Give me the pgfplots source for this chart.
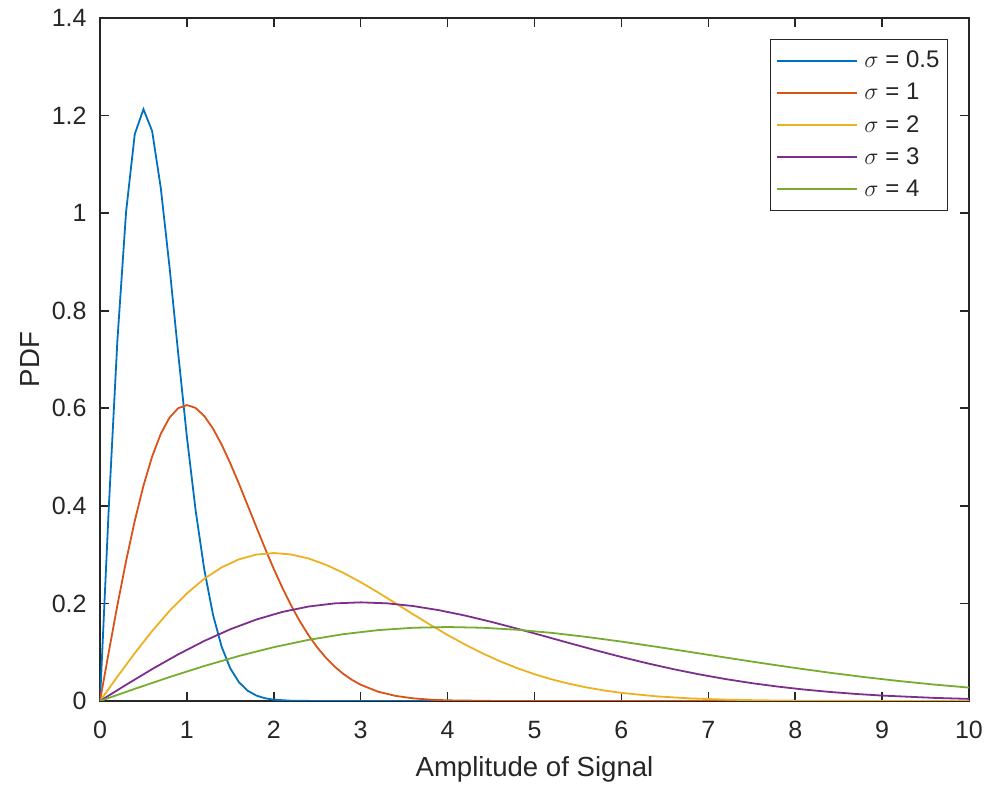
\documentclass[border=0pt]{standalone}
\usepackage{fontspec}
\setmainfont{Liberation Sans}
\usepackage{pgfplots}
\pgfplotsset{compat=1.18}
\definecolor{c1}{rgb}{0,0.447,0.741}
\definecolor{c2}{rgb}{0.85,0.325,0.098}
\definecolor{c3}{rgb}{0.929,0.694,0.125}
\definecolor{c4}{rgb}{0.494,0.184,0.556}
\definecolor{c5}{rgb}{0.466,0.674,0.188}
\definecolor{axc}{rgb}{0.15,0.15,0.15}
\begin{document}
\begin{tikzpicture}
\useasboundingbox (-50pt,-45pt) rectangle (446pt,350.5pt);
\begin{axis}[
  at={(0,0)}, anchor=south west, scale only axis,
  width=434.5pt, height=341.5pt,
  xmin=0, xmax=10, ymin=0, ymax=1.4,
  xtick={0,1,2,3,4,5,6,7,8,9,10},
  ytick={0,0.2,0.4,0.6,0.8,1,1.2,1.4},
  tick align=inside, major tick length=4.5pt,
  axis line style={axc, line width=0.8pt},
  every tick/.style={axc, line width=0.8pt},
  tick label style={font=\fontsize{12.5}{14}\selectfont, text=axc},
  /pgf/number format/assume math mode=true,
  xticklabel style={anchor=north, inner sep=0pt, yshift=-10pt},
  yticklabel style={anchor=east, inner sep=0pt, xshift=-6.5pt},
  xlabel={Amplitude of Signal}, ylabel={PDF},
  label style={font=\fontsize{13.8}{16}\selectfont, text=axc},
  xlabel style={at={(axis description cs:0.5,-0.0996)}, anchor=center},
  ylabel style={at={(axis description cs:-0.0806,0.5)}, anchor=center},
  legend cell align=left,
  legend image code/.code={\draw[#1, line width=0.9pt] (0pt,0pt) -- (40pt,0pt);},
  legend style={at={(axis description cs:1,1)}, xshift=-10.5pt, yshift=-10.5pt, anchor=north east,
    draw=axc, line width=0.6pt, font=\fontsize{12}{14}\selectfont, text=axc,
    inner xsep=2.5pt, inner ysep=4.3pt, row sep=3.2pt,
    nodes={inner sep=1.5pt},
    /tikz/every odd column/.append style={column sep=2pt}},
  every axis plot/.append style={line width=0.9pt},
]
\addplot[c1] coordinates {(0,0) (0.1,0.39208) (0.2,0.73849) (0.3,1.00232) (0.4,1.16184) (0.5,1.21306) (0.6,1.16821) (0.7,1.05087) (0.8,0.88974) (0.9,0.71245) (1.0,0.54134) (1.1,0.39126) (1.2,0.26945) (1.3,0.17705) (1.4,0.11111) (1.5,0.06665) (1.6,0.03825) (1.7,0.02100) (1.8,0.01104) (1.9,0.00556) (2.0,0.00268) (2.2,0.00055) (2.5,0.00004) (3,0) (10,0)};
\addlegendentry{$\sigma$ = 0.5}
\addplot[c2] coordinates {(0,0) (0.1,0.09950) (0.2,0.19604) (0.3,0.28680) (0.4,0.36925) (0.5,0.44125) (0.6,0.50116) (0.7,0.54789) (0.8,0.58092) (0.9,0.60028) (1.0,0.60653) (1.1,0.60068) (1.2,0.58410) (1.3,0.55842) (1.4,0.52544) (1.5,0.48698) (1.6,0.44486) (1.7,0.40077) (1.8,0.35622) (1.9,0.31250) (2.0,0.27067) (2.1,0.23153) (2.2,0.19563) (2.3,0.16331) (2.4,0.13472) (2.5,0.10984) (2.6,0.08852) (2.7,0.07053) (2.8,0.05555) (2.9,0.04327) (3.0,0.03333) (3.2,0.01912) (3.4,0.01050) (3.6,0.00552) (3.8,0.00278) (4.0,0.00134) (4.5,0.00018) (5,0.00002) (10,0)};
\addlegendentry{$\sigma$ = 1}
\addplot[c3] coordinates {(0,0) (0.2,0.04975) (0.4,0.09802) (0.6,0.14340) (0.8,0.18463) (1.0,0.22063) (1.2,0.25058) (1.4,0.27395) (1.6,0.29046) (1.8,0.30014) (2.0,0.30327) (2.2,0.30034) (2.4,0.29205) (2.6,0.27921) (2.8,0.26272) (3.0,0.24349) (3.2,0.22243) (3.4,0.20039) (3.6,0.17811) (3.8,0.15625) (4.0,0.13534) (4.2,0.11577) (4.4,0.09782) (4.6,0.08166) (4.8,0.06736) (5.0,0.05492) (5.2,0.04426) (5.4,0.03527) (5.6,0.02778) (5.8,0.02164) (6.0,0.01667) (6.4,0.00956) (6.8,0.00525) (7.2,0.00276) (7.6,0.00139) (8.0,0.00067) (9.0,0.00009) (10,0.00001)};
\addlegendentry{$\sigma$ = 2}
\addplot[c4] coordinates {(0,0) (0.3,0.03317) (0.6,0.06535) (0.9,0.09560) (1.2,0.12308) (1.5,0.14708) (1.8,0.16705) (2.1,0.18263) (2.4,0.19364) (2.7,0.20009) (3.0,0.20218) (3.3,0.20023) (3.6,0.19470) (3.9,0.18614) (4.2,0.17515) (4.5,0.16233) (4.8,0.14829) (5.1,0.13359) (5.4,0.11874) (5.7,0.10417) (6.0,0.09022) (6.3,0.07718) (6.6,0.06521) (6.9,0.05444) (7.2,0.04491) (7.5,0.03661) (7.8,0.02951) (8.1,0.02351) (8.4,0.01852) (8.7,0.01442) (9.0,0.01111) (9.6,0.00637) (10,0.00430)};
\addlegendentry{$\sigma$ = 3}
\addplot[c5] coordinates {(0,0) (0.4,0.02488) (0.8,0.04901) (1.2,0.07170) (1.6,0.09231) (2.0,0.11031) (2.4,0.12529) (2.8,0.13697) (3.2,0.14523) (3.6,0.15007) (4.0,0.15163) (4.4,0.15017) (4.8,0.14603) (5.2,0.13961) (5.6,0.13136) (6.0,0.12175) (6.4,0.11122) (6.8,0.10019) (7.2,0.08906) (7.6,0.07813) (8.0,0.06767) (8.4,0.05788) (8.8,0.04891) (9.2,0.04083) (9.6,0.03368) (10.0,0.02746)};
\addlegendentry{$\sigma$ = 4}
\end{axis}
\end{tikzpicture}
\end{document}
